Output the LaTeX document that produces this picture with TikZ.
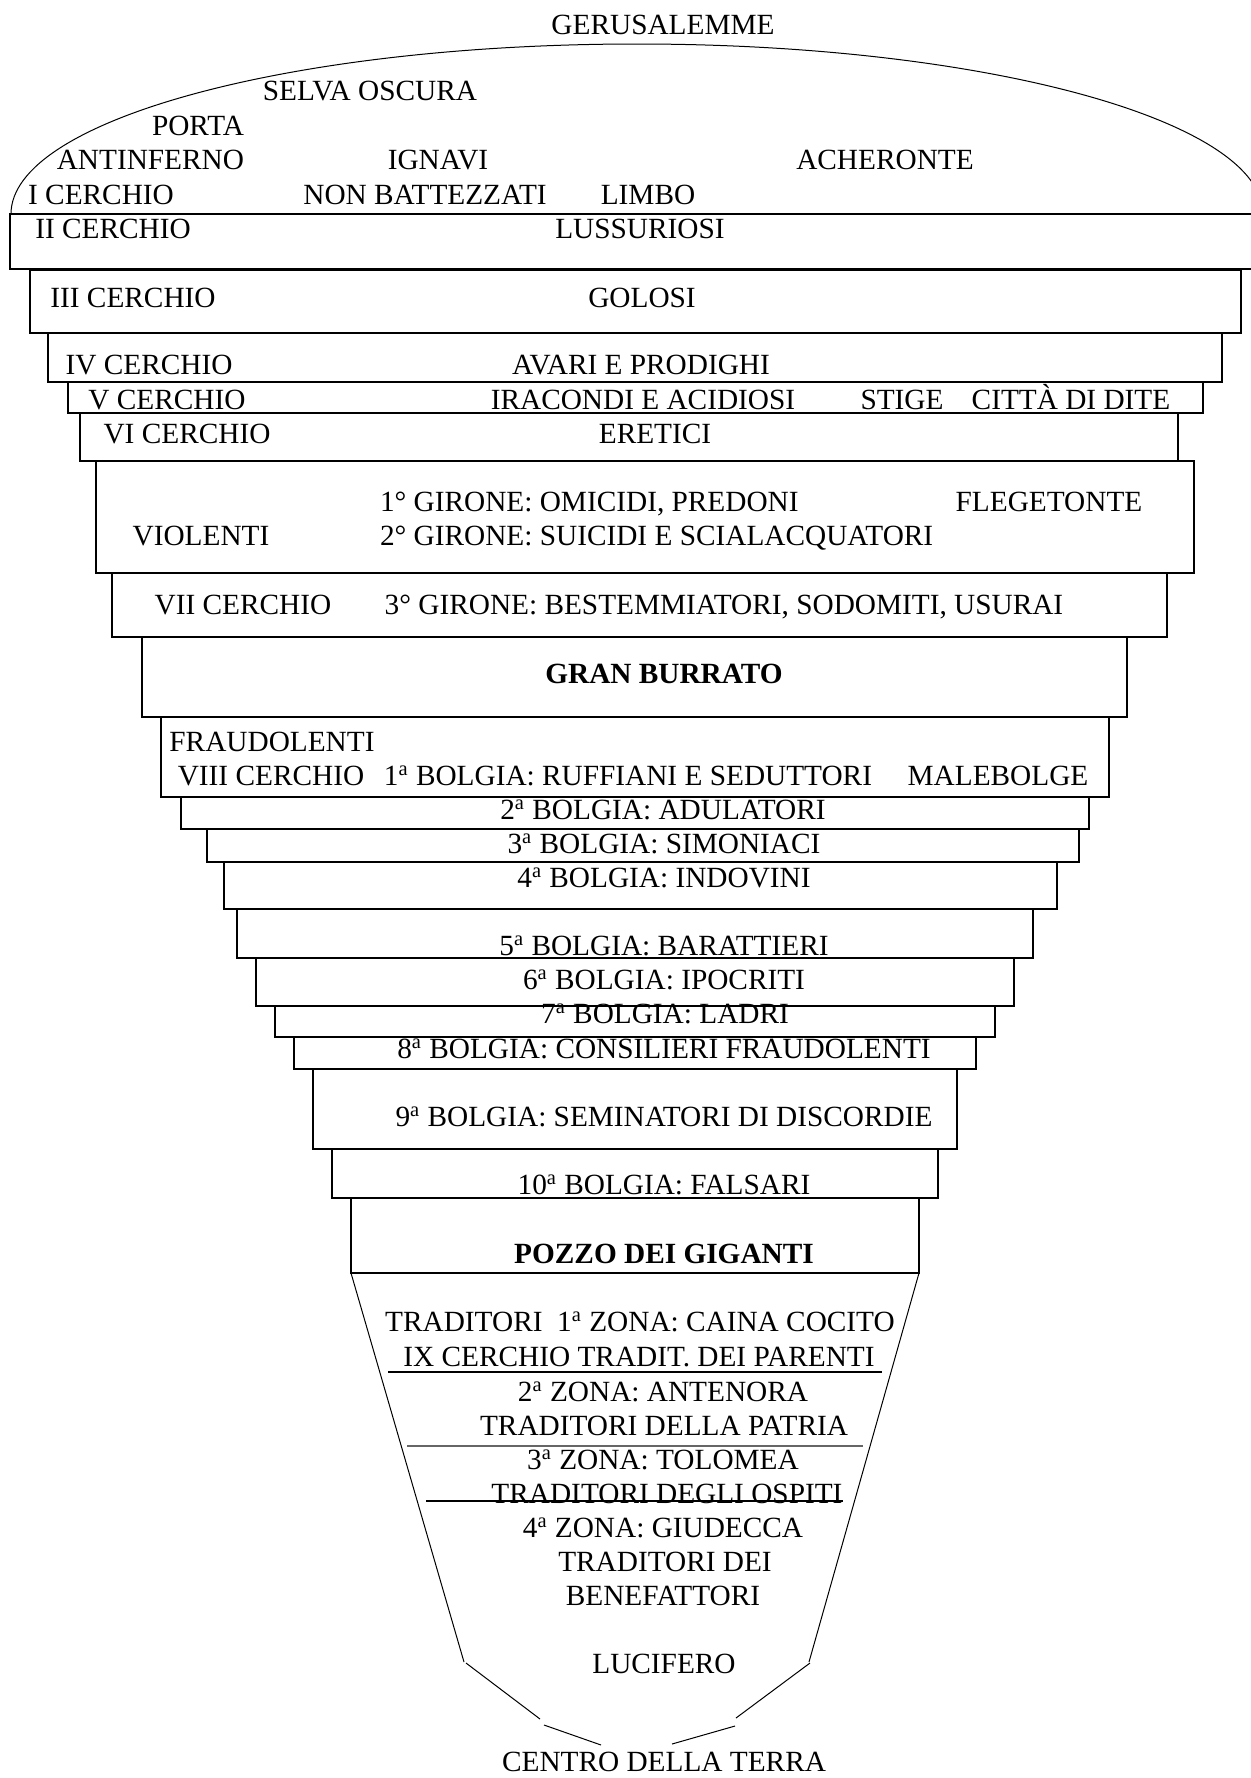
\documentclass[tikz,border=0pt]{standalone}
\usepackage{fontspec}
\setmainfont{Liberation Serif}
\newcommand{\dfs}{\fontsize{14.65pt}{17pt}\selectfont}
\newcommand{\sa}{\textsuperscript{a}}
\begin{document}
\begin{tikzpicture}[x=0.5pt,y=-0.5pt,
  txt/.style={inner sep=0pt,outer sep=0pt,text height=9.7pt,text depth=0pt,font=\dfs},
  btxt/.style={txt,font=\dfs\bfseries},
  boxline/.style={draw=black,line width=0.8pt},
  thinline/.style={draw=black,line width=0.5pt},
  zoneline/.style={draw=black,line width=0.6pt}]
\useasboundingbox (0,0) rectangle (1251,1778);
\clip (0,0) rectangle (1251,1778);
% top half ellipse
\begin{scope}
  \clip (0,0) rectangle (1251,214);
  \draw[thinline] (637,214) ellipse [x radius=313pt, y radius=85pt];
\end{scope}
% II cerchio band (open to the right)
\draw[boxline] (1260,214) -- (10,214) -- (10,269) -- (1260,269);
% circles
\draw[boxline] (30,270) rectangle (1241,333);
\draw[boxline] (48,333) rectangle (1222,382);
\draw[boxline] (68,382) rectangle (1203,413);
\draw[boxline] (80,413) rectangle (1178,461);
\draw[boxline] (96,461) rectangle (1194,573);
\draw[boxline] (112,573) rectangle (1167,637);
\draw[boxline] (142,637) rectangle (1127,717);
\draw[boxline] (161,717) rectangle (1109,797);
\draw[boxline] (181,797) rectangle (1089,829);
\draw[boxline] (207,829) rectangle (1079,862);
\draw[boxline] (224,862) rectangle (1057,909);
\draw[boxline] (237,909) rectangle (1033,958);
\draw[boxline] (256,958) rectangle (1014,1006);
\draw[boxline] (275,1006) rectangle (995,1037);
\draw[boxline] (294,1037) rectangle (976,1069);
\draw[boxline] (313,1069) rectangle (957,1149);
\draw[boxline] (332,1149) rectangle (938,1198);
\draw[boxline] (351,1198) rectangle (919,1273);
% Cocito funnel
\draw[thinline] (351,1273) -- (464,1662);
\draw[thinline] (919,1273) -- (809,1662);
\draw[thinline] (466,1663) -- (540,1719);
\draw[thinline] (544,1725) -- (601,1745);
\draw[thinline] (810,1663) -- (736,1718);
\draw[thinline] (735,1726) -- (672,1744);
\draw[zoneline] (388,1372) -- (882,1372);
\draw[zoneline,draw=black!60] (407,1446) -- (863,1446);
\draw[zoneline] (426,1501) -- (843,1501);
% texts
\node[txt] (ger) at (663,25) {GERUSALEMME};
\node[txt] (selva) at (370,91) {SELVA OSCURA};
\node[txt,anchor=east] (porta) at (244,126) {PORTA};
\node[txt,anchor=east] (antinf) at (244,160) {ANTINFERNO};
\node[txt] (ignavi) at (438,160) {IGNAVI};
\node[txt] (acher) at (885,160) {ACHERONTE};
\node[txt] (c1) at (101,195) {I CERCHIO};
\node[txt] (nonbat) at (425,195) {NON BATTEZZATI};
\node[txt] (limbo) at (648,195) {LIMBO};
\node[txt] (c2) at (113,229) {II CERCHIO};
\node[txt] (luss) at (640,229) {LUSSURIOSI};
\node[txt] (c3) at (133,298) {III CERCHIO};
\node[txt] (golosi) at (642,298) {GOLOSI};
\node[txt] (c4) at (149,365) {IV CERCHIO};
\node[txt] (avari) at (641,365) {AVARI E PRODIGHI};
\node[txt] (c5) at (167,400) {V CERCHIO};
\node[txt] (iracondi) at (643,400) {IRACONDI E ACIDIOSI};
\node[txt] (stige) at (902,400) {STIGE};
\node[txt] (dite) at (1071,400) {CITTÀ DI DITE};
\node[txt] (c6) at (187,434) {VI CERCHIO};
\node[txt] (eretici) at (655,434) {ERETICI};
\node[txt,anchor=west] (gir1) at (380,502) {1° GIRONE: OMICIDI, PREDONI};
\node[txt] (fleg) at (1049,502) {FLEGETONTE};
\node[txt] (violenti) at (201,536) {VIOLENTI};
\node[txt,anchor=west] (gir2) at (380,536) {2° GIRONE: SUICIDI E SCIALACQUATORI};
\node[txt] (c7) at (243,605) {VII CERCHIO};
\node[txt] (gir3) at (724,605) {3° GIRONE: BESTEMMIATORI, SODOMITI, USURAI};
\node[btxt] (burrato) at (664,674) {GRAN BURRATO};
\node[txt] (fraud) at (272,742) {FRAUDOLENTI};
\node[txt] (c8) at (271,776) {VIII CERCHIO};
\node[txt] (b1) at (628,776) {1\sa{} BOLGIA: RUFFIANI E SEDUTTORI};
\node[txt] (malebolge) at (998,776) {MALEBOLGE};
\node[txt] (b2) at (663,810) {2\sa{} BOLGIA: ADULATORI};
\node[txt] (b3) at (664,844) {3\sa{} BOLGIA: SIMONIACI};
\node[txt] (b4) at (664,878) {4\sa{} BOLGIA: INDOVINI};
\node[txt] (b5) at (664,946) {5\sa{} BOLGIA: BARATTIERI};
\node[txt] (b6) at (664,980) {6\sa{} BOLGIA: IPOCRITI};
\node[txt] (b7) at (665,1014) {7\sa{} BOLGIA: LADRI};
\node[txt] (b8) at (664,1049) {8\sa{} BOLGIA: CONSILIERI FRAUDOLENTI};
\node[txt] (b9) at (664,1117) {9\sa{} BOLGIA: SEMINATORI DI DISCORDIE};
\node[txt] (b10) at (664,1185) {10\sa{} BOLGIA: FALSARI};
\node[btxt] (pozzo) at (664,1254) {POZZO DEI GIGANTI};
\node[txt] (z1) at (640,1322) {TRADITORI~ 1\sa{} ZONA: CAINA COCITO};
\node[txt] (c9) at (639,1357) {IX CERCHIO TRADIT. DEI PARENTI};
\node[txt] (z2) at (663,1392) {2\sa{} ZONA: ANTENORA};
\node[txt] (patria) at (664,1426) {TRADITORI DELLA PATRIA};
\node[txt] (z3) at (663,1460) {3\sa{} ZONA: TOLOMEA};
\node[txt] (ospiti) at (667,1494) {TRADITORI DEGLI OSPITI};
\node[txt] (z4) at (663,1528) {4\sa{} ZONA: GIUDECCA};
\node[txt] (tdei) at (665,1562) {TRADITORI DEI};
\node[txt] (benef) at (663,1596) {BENEFATTORI};
\node[txt] (lucifero) at (664,1664) {LUCIFERO};
\node[txt] (centro) at (664,1762) {CENTRO DELLA TERRA};
\end{tikzpicture}
\end{document}
